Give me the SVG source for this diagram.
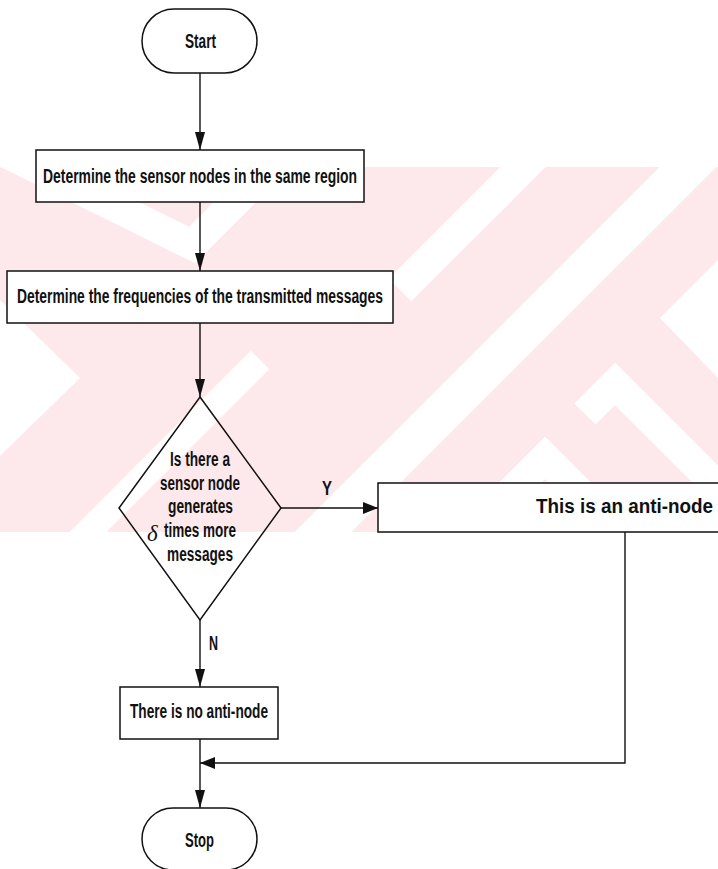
<svg xmlns="http://www.w3.org/2000/svg" width="718" height="869" viewBox="0 0 718 869">
<defs>
<style>
.box{fill:#fff;stroke:#111;stroke-width:1.5}
.dia{fill:none;stroke:#111;stroke-width:1.5}
.ln{fill:none;stroke:#111;stroke-width:1.4}
.t{font-family:"Liberation Sans",Arial,sans-serif;font-weight:bold;font-size:19.5px;fill:#111}
.d{font-family:"Liberation Serif","Times New Roman",serif;font-style:italic;font-size:23px;fill:#111}
.wm{fill:none;stroke:#fff;stroke-linejoin:miter}
</style>
<marker id="ah" viewBox="0 0 18 10" refX="18" refY="5" markerWidth="18" markerHeight="10" markerUnits="userSpaceOnUse" orient="auto">
<path d="M0,0 L18,5 L0,10 z" fill="#111"/>
</marker>
<marker id="ah2" viewBox="0 0 15 12" refX="15" refY="6" markerWidth="15" markerHeight="12" markerUnits="userSpaceOnUse" orient="auto">
<path d="M0,0 L15,6 L0,12 z" fill="#111"/>
</marker>
<clipPath id="band"><rect x="0" y="167" width="718" height="365"/></clipPath>
</defs>
<rect x="0" y="0" width="718" height="869" fill="#fff"/>
<g id="watermark" clip-path="url(#band)">
<rect x="0" y="167" width="718" height="365" fill="#fde9ec"/>
<polyline class="wm" stroke-width="30" points="0,150 192,245 300,137"/>
<polygon fill="#fff" points="0,300 80,378 0,456"/>
<line class="wm" stroke-width="40" x1="730" y1="125" x2="300" y2="555"/>
<line class="wm" stroke-width="32" x1="545" y1="145" x2="400" y2="290"/>
<line class="wm" stroke-width="26" x1="60" y1="560" x2="260" y2="360"/>
<polygon fill="#fff" points="660,318 718,260 718,378"/>
<polyline class="wm" stroke-width="30" points="585,414 615,384 730,499"/>
<polyline class="wm" stroke-width="30" points="460,543 545,458 630,543"/>
</g>
<g id="connectors">
<line class="ln" x1="200" y1="73" x2="200" y2="150" marker-end="url(#ah)"/>
<line class="ln" x1="200" y1="202" x2="200" y2="271" marker-end="url(#ah)"/>
<line class="ln" x1="200" y1="323" x2="200" y2="397" marker-end="url(#ah)"/>
<line class="ln" x1="281" y1="508" x2="378" y2="508" marker-end="url(#ah2)"/>
<line class="ln" x1="200" y1="620" x2="200" y2="687" marker-end="url(#ah)"/>
<polyline class="ln" points="625,532 625,763 200,763" marker-end="url(#ah2)"/>
<line class="ln" x1="200" y1="739" x2="200" y2="808" marker-end="url(#ah)"/>
<text class="t" x="322" y="495" font-size="18" textLength="10" lengthAdjust="spacingAndGlyphs">Y</text>
<text class="t" x="209" y="650" font-size="18" textLength="9" lengthAdjust="spacingAndGlyphs">N</text>
</g>
<g id="start">
<rect class="box" x="142" y="9" width="115" height="64" rx="32" ry="32"/>
<text class="t" x="185" y="48" font-size="20.5" textLength="31" lengthAdjust="spacingAndGlyphs">Start</text>
</g>
<g id="determine-nodes">
<rect class="box" x="36" y="150" width="328" height="52"/>
<text class="t" x="43" y="183" textLength="314" lengthAdjust="spacingAndGlyphs">Determine the sensor nodes in the same region</text>
</g>
<g id="determine-frequencies">
<rect class="box" x="7" y="271" width="386" height="52"/>
<text class="t" x="17" y="303" textLength="366" lengthAdjust="spacingAndGlyphs">Determine the frequencies of the transmitted messages</text>
</g>
<g id="decision">
<polygon class="dia" points="200,397 281,508 200,620 119,508"/>
<text class="t" x="170" y="466" textLength="60" lengthAdjust="spacingAndGlyphs">Is there a</text>
<text class="t" x="160" y="490" textLength="80" lengthAdjust="spacingAndGlyphs">sensor node</text>
<text class="t" x="168" y="513" textLength="65" lengthAdjust="spacingAndGlyphs">generates</text>
<text class="d" x="147" y="541">δ</text>
<text class="t" x="164" y="537" textLength="72" lengthAdjust="spacingAndGlyphs">times more</text>
<text class="t" x="167" y="561" textLength="66" lengthAdjust="spacingAndGlyphs">messages</text>
</g>
<g id="anti-node">
<rect class="box" x="378" y="483" width="345" height="49"/>
<text class="t" x="536" y="513" textLength="177" lengthAdjust="spacingAndGlyphs">This is an anti-node</text>
</g>
<g id="no-anti-node">
<rect class="box" x="120" y="687" width="158" height="52"/>
<text class="t" x="130" y="718" textLength="138" lengthAdjust="spacingAndGlyphs">There is no anti-node</text>
</g>
<g id="stop">
<rect class="box" x="142" y="808" width="115" height="62" rx="31" ry="31"/>
<text class="t" x="185" y="847" font-size="20.5" textLength="29" lengthAdjust="spacingAndGlyphs">Stop</text>
</g>
</svg>
